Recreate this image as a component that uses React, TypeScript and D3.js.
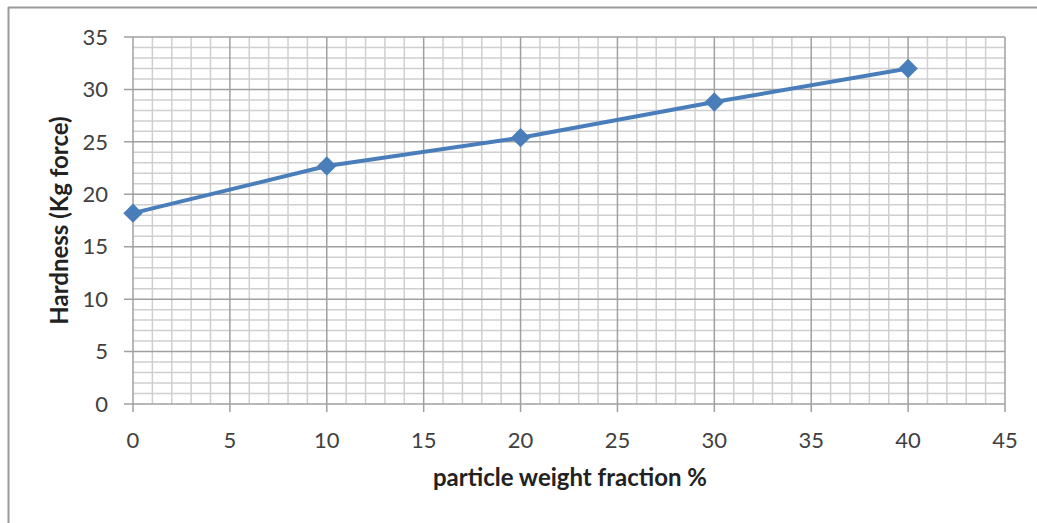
import { useMemo } from 'react';
import * as d3 from 'd3';

const weightFraction = [0, 10, 20, 30, 40];
const hardness = [18.2, 22.7, 25.4, 28.8, 32.0];
const xTicks = [0, 5, 10, 15, 20, 25, 30, 35, 40, 45];
const yTicks = [0, 5, 10, 15, 20, 25, 30, 35];

const WIDTH = 1037;
const HEIGHT = 523;
const FONT = 'Lato, "Open Sans", sans-serif';
const BLUE = '#4A7EBB';

export default function App() {
  const x = useMemo(() => d3.scaleLinear().domain([0, 45]).range([133, 1005]), []);
  const y = useMemo(() => d3.scaleLinear().domain([0, 35]).range([404, 37]), []);

  const minorX = d3.range(0, 46, 1);
  const minorY = d3.range(0, 36, 1);

  const linePath = d3
    .line<number>()
    .x((_, i) => x(weightFraction[i]))
    .y((d) => y(d))(hardness);

  const diamond = d3.symbol(d3.symbolDiamond2, 240)();

  return (
    <svg
      width={WIDTH}
      height={HEIGHT}
      style={{ position: 'absolute', left: 0, top: 0, background: '#fff' }}
    >
      {/* frame */}
      <line x1={8.5} x2={8.5} y1={7} y2={HEIGHT} stroke="#9a9a9a" strokeWidth={2} />
      <line x1={8} x2={WIDTH} y1={7.5} y2={7.5} stroke="#9a9a9a" strokeWidth={2} />

      {/* minor grid */}
      {minorX.filter((v) => v % 5 !== 0).map((v) => (
        <line key={`mx${v}`} x1={x(v)} x2={x(v)} y1={y(35)} y2={y(0)} stroke="#cfcfcf" strokeWidth={1.5} />
      ))}
      {minorY.filter((v) => v % 5 !== 0).map((v) => (
        <line key={`my${v}`} x1={x(0)} x2={x(45)} y1={y(v)} y2={y(v)} stroke="#cfcfcf" strokeWidth={1.5} />
      ))}
      {/* major grid */}
      {xTicks.map((v) => (
        <line key={`gx${v}`} x1={x(v)} x2={x(v)} y1={y(35)} y2={y(0) + 8} stroke="#a0a0a0" strokeWidth={1.5} />
      ))}
      {yTicks.map((v) => (
        <line key={`gy${v}`} x1={x(0) - 9} x2={x(45)} y1={y(v)} y2={y(v)} stroke="#a0a0a0" strokeWidth={1.5} />
      ))}

      {/* tick labels */}
      {yTicks.map((v) => (
        <text
          key={`ty${v}`}
          x={108}
          y={y(v)}
          dy="0.35em"
          textAnchor="end"
          fontFamily={FONT}
          fontSize={22}
          fill="#404040"
        >
          {v}
        </text>
      ))}
      {xTicks.map((v) => (
        <text
          key={`tx${v}`}
          x={x(v)}
          y={440}
          dy="0.35em"
          textAnchor="middle"
          fontFamily={FONT}
          fontSize={22}
          fill="#404040"
        >
          {v}
        </text>
      ))}

      {/* axis titles */}
      <text
        x={570}
        y={478}
        dy="0.35em"
        textAnchor="middle"
        fontFamily={FONT}
        fontSize={24}
        fontWeight="bold"
        fill="#222"
      >
        particle weight fraction %
      </text>
      <text
        transform={`translate(60, ${y(17.5)}) rotate(-90)`}
        dy="0.35em"
        textAnchor="middle"
        fontFamily={FONT}
        fontSize={24}
        fontWeight="bold"
        fill="#222"
      >
        Hardness  (Kg force)
      </text>

      {/* series */}
      <path d={linePath ?? ''} fill="none" stroke={BLUE} strokeWidth={4} strokeLinejoin="round" />
      {hardness.map((v, i) => (
        <path
          key={`m${i}`}
          d={diamond ?? ''}
          transform={`translate(${x(weightFraction[i])}, ${y(v)})`}
          fill={BLUE}
        />
      ))}
    </svg>
  );
}
